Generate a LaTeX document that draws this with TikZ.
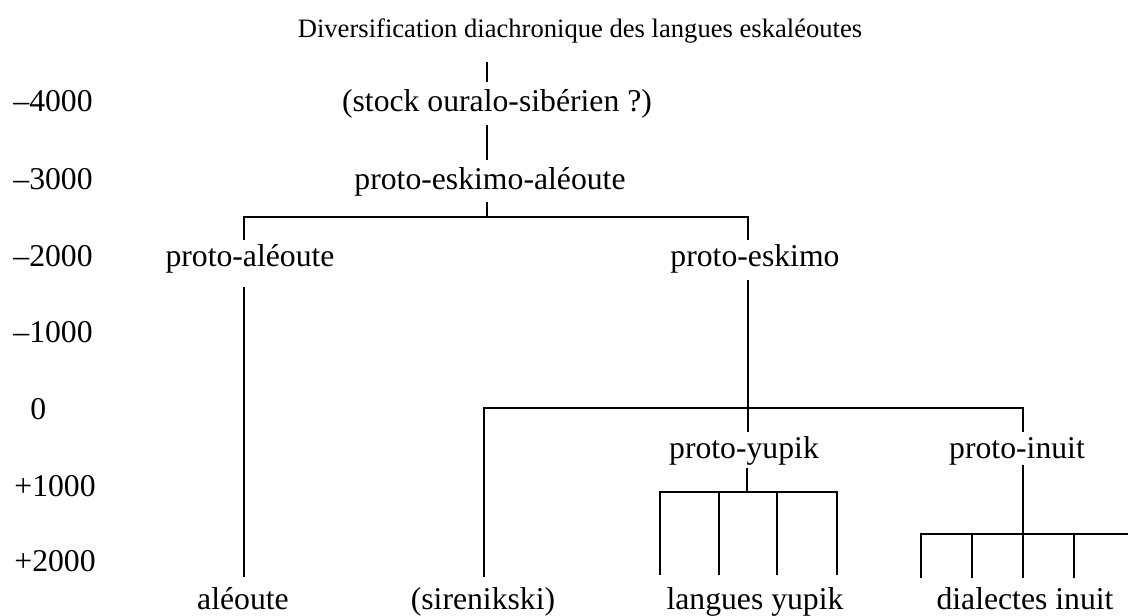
\documentclass[tikz,border=0pt]{standalone}
\usepackage{fontspec}
\setmainfont{Liberation Serif}
\begin{document}
\begin{tikzpicture}[x=0.5pt,y=-0.5pt,
  lbl/.style={anchor=base,inner sep=0pt,font=\fontsize{15.85}{18}\selectfont},
  tm/.style={anchor=base west,inner sep=0pt,font=\fontsize{15.85}{18}\selectfont},
  ttl/.style={anchor=base,inner sep=0pt,font=\fontsize{13.3}{16}\selectfont},
  ln/.style={line width=0.9pt,line cap=butt,line join=miter}]
\useasboundingbox (0,0) rectangle (1128,615);
% title
\node[ttl] (title) at (580,38) {Diversification diachronique des langues eskaléoutes};
% time axis
\node[tm] (tA) at (13,112) {--4000};
\node[tm] (tB) at (13,189) {--3000};
\node[tm] (tC) at (13,266) {--2000};
\node[tm] (tD) at (13,342) {--1000};
\node[tm] (tE) at (30,419) {0};
\node[tm] (tF) at (14,496) {+1000};
\node[tm] (tG) at (14,571) {+2000};
% tree labels
\node[lbl] (stock) at (497,112) {(stock ouralo-sibérien ?)};
\node[lbl] (pea) at (490,189) {proto-eskimo-aléoute};
\node[lbl] (pa) at (250,266) {proto-aléoute};
\node[lbl] (pe) at (755,266) {proto-eskimo};
\node[lbl] (py) at (744,458) {proto-yupik};
\node[lbl] (pi) at (1017,458) {proto-inuit};
\node[lbl] (al) at (243,609) {aléoute};
\node[lbl] (sir) at (483,609) {(sirenikski)};
\node[lbl] (ly) at (755,609) {langues yupik};
\node[lbl] (di) at (1025,609) {dialectes inuit};
% junction coordinates
\coordinate (s0) at (487,62);  \coordinate (s1) at (487,82);
\coordinate (s2) at (487,125); \coordinate (s3) at (487,160);
\coordinate (s4) at (487,202); \coordinate (s5) at (487,217);
\coordinate (aT) at (244,240); \coordinate (eT) at (748,240);
\coordinate (aB) at (244,287); \coordinate (aE) at (244,577);
\coordinate (eB) at (748,280); \coordinate (eJ) at (748,408); \coordinate (eE) at (748,432);
\coordinate (sT) at (484,577);
\coordinate (iT) at (1023,432);
\coordinate (yB) at (747,468); \coordinate (yJ) at (747,492);
\coordinate (iB) at (1023,465); \coordinate (iJ) at (1023,534);
% connectors
\draw[ln] (s0) -- (s1);
\draw[ln] (s2) -- (s3);
\draw[ln] (s4) -- (s5);
\draw[ln] (aT) |- (s5) -| (eT);
\draw[ln] (aB) -- (aE);
\draw[ln] (eB) -- (eE);
\draw[ln] (sT) |- (eJ) -| (iT);
\draw[ln] (yB) -- (yJ);
\draw[ln] (660,575) |- (yJ) -| (837,575);
\foreach \x in {719,777} \draw[ln] (\x,492) -- (\x,575);
\draw[ln] (iB) -- (iJ);
\draw[ln] (921,578) |- (iJ) -- (1128,534);
\foreach \x in {972,1023,1074} \draw[ln] (\x,534) -- (\x,578);
\end{tikzpicture}
\end{document}
